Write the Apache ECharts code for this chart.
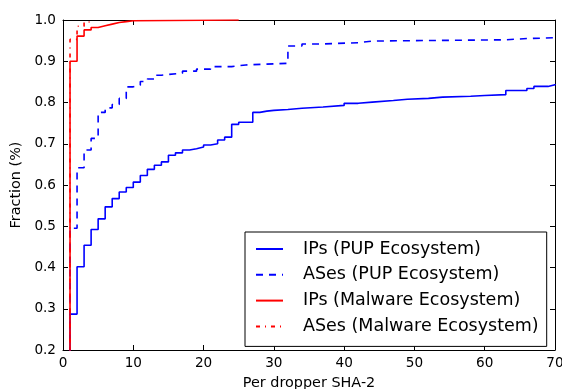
<!DOCTYPE html>
<html>
<head>
<meta charset="utf-8">
<script src="https://cdn.jsdelivr.net/npm/echarts@6/dist/echarts.min.js"></script>
<style>
  html, body { margin: 0; padding: 0; background: #fff; }
  #chart { width: 562px; height: 389px; }
</style>
</head>
<body>
<div id="chart"></div>
<script>
// Empirical CDFs: number of distinct IPs / ASes contacted per dropper SHA-2
const seriesNames = [
  'IPs (PUP Ecosystem)',
  'ASes (PUP Ecosystem)',
  'IPs (Malware Ecosystem)',
  'ASes (Malware Ecosystem)'
];

const ipsPupX = [1, 1, 2, 3, 4, 5, 6, 7, 8, 9, 10, 11, 12, 13, 14, 15, 16, 17, 18, 19, 20,
  21, 22, 23, 24, 25, 27, 28, 29, 30, 32, 34, 37, 40, 42, 44, 47, 49, 52, 54, 58, 60, 63, 66, 67, 69, 70];
const ipsPupY = [0, 0.287, 0.402, 0.454, 0.492, 0.518, 0.547, 0.567, 0.583, 0.594, 0.607,
  0.623, 0.638, 0.648, 0.656, 0.672, 0.678, 0.685, 0.688, 0.692, 0.697,
  0.700, 0.709, 0.716, 0.747, 0.752, 0.776, 0.779, 0.781, 0.783, 0.786, 0.789, 0.793,
  0.798, 0.801, 0.805, 0.808, 0.810, 0.813, 0.815, 0.817, 0.819, 0.829, 0.834, 0.839, 0.843, 0.845];

const asesPupX = [1, 1, 2, 3, 4, 5, 6, 7, 8, 9, 10, 11, 12, 13, 14, 15, 17, 19, 21, 24, 26,
  32, 34, 37, 42, 44, 63, 66, 70];
const asesPupY = [0, 0.495, 0.642, 0.685, 0.713, 0.776, 0.787, 0.795, 0.810, 0.838, 0.842,
  0.851, 0.857, 0.866, 0.868, 0.871, 0.876, 0.881, 0.887, 0.891, 0.895,
  0.937, 0.942, 0.945, 0.949, 0.952, 0.955, 0.957, 0.958];

const ipsMalX = [1, 1, 2, 3, 4, 5, 6, 7, 8, 9, 10, 25];
const ipsMalY = [0, 0.900, 0.961, 0.976, 0.982, 0.986, 0.990, 0.994, 0.996, 0.998, 1.0, 1.0];

const asesMalX = [1, 1, 2, 3, 4];
const asesMalY = [0, 0.953, 0.985, 0.995, 1.0];

const xTickValues = [0, 10, 20, 30, 40, 50, 60, 70];
const yTickValues = [0.2, 0.3, 0.4, 0.5, 0.6, 0.7, 0.8, 0.9, 1.0];

const pairs = (xs, ys) => xs.map((x, i) => [x, ys[i]]);

const FONT = 'DejaVu Sans';
const BLUE = '#0000ff';
const RED = '#ff0000';

const frameAxis = {
  axisLine: { show: true, onZero: false, lineStyle: { color: '#000', width: 1 } },
  axisTick: { show: true, inside: true, length: 5, lineStyle: { color: '#000', width: 1 } },
  splitLine: { show: false }
};

const chart = echarts.init(document.getElementById('chart'), null, { renderer: 'canvas' });

chart.setOption({
  animation: false,
  backgroundColor: '#fff',
  grid: { left: 63, right: 7, top: 20, bottom: 39, containLabel: false, outerBoundsMode: 'none' },
  xAxis: [
    Object.assign({}, frameAxis, {
      type: 'value', position: 'bottom',
      min: xTickValues[0], max: xTickValues[xTickValues.length - 1], interval: 10,
      axisLabel: { color: '#000', fontFamily: FONT, fontSize: 13.6, margin: 6 },
      name: 'Per dropper SHA-2', nameLocation: 'middle', nameGap: 26,
      nameTextStyle: { color: '#000', fontFamily: FONT, fontSize: 14.4 }
    }),
    Object.assign({}, frameAxis, {
      type: 'value', position: 'top',
      min: xTickValues[0], max: xTickValues[xTickValues.length - 1], interval: 10,
      axisLabel: { show: false }
    })
  ],
  yAxis: [
    Object.assign({}, frameAxis, {
      type: 'value', position: 'left',
      min: yTickValues[0], max: yTickValues[yTickValues.length - 1], interval: 0.1,
      axisLabel: {
        color: '#000', fontFamily: FONT, fontSize: 13.6, margin: 7,
        formatter: v => v.toFixed(1)
      },
      name: 'Fraction (%)', nameLocation: 'middle', nameGap: 34.5,
      nameTextStyle: { color: '#000', fontFamily: FONT, fontSize: 14.4 }
    }),
    Object.assign({}, frameAxis, {
      type: 'value', position: 'right',
      min: yTickValues[0], max: yTickValues[yTickValues.length - 1], interval: 0.1,
      axisLabel: { show: false }
    })
  ],
  legend: {
    left: 245, top: 232,
    orient: 'vertical',
    itemWidth: 27, itemHeight: 14, itemGap: 7.8,
    padding: [8, 8, 11, 10],
    borderColor: '#000', borderWidth: 1, backgroundColor: '#fff',
    itemStyle: { color: 'rgba(0,0,0,0)', borderWidth: 0, opacity: 0 },
    textStyle: { color: '#000', fontFamily: FONT, fontSize: 17.5, padding: [0, 0, 0, 15] },
    data: seriesNames
  },
  series: [
    {
      name: seriesNames[0], type: 'line', step: 'end', symbol: 'none',
      data: pairs(ipsPupX, ipsPupY),
      lineStyle: { color: BLUE, width: 1.6, type: 'solid' },
      itemStyle: { color: BLUE }
    },
    {
      name: seriesNames[1], type: 'line', step: 'end', symbol: 'none',
      data: pairs(asesPupX, asesPupY),
      lineStyle: { color: BLUE, width: 1.6, type: [7, 6] },
      itemStyle: { color: BLUE }
    },
    {
      name: seriesNames[2], type: 'line', step: 'end', symbol: 'none',
      data: pairs(ipsMalX, ipsMalY),
      lineStyle: { color: RED, width: 1.6, type: 'solid' },
      itemStyle: { color: RED }
    },
    {
      name: seriesNames[3], type: 'line', step: 'end', symbol: 'none',
      data: pairs(asesMalX, asesMalY),
      lineStyle: { color: RED, width: 1.6, type: [4, 5, 1, 5] },
      itemStyle: { color: RED }
    }
  ]
});
</script>
</body>
</html>
